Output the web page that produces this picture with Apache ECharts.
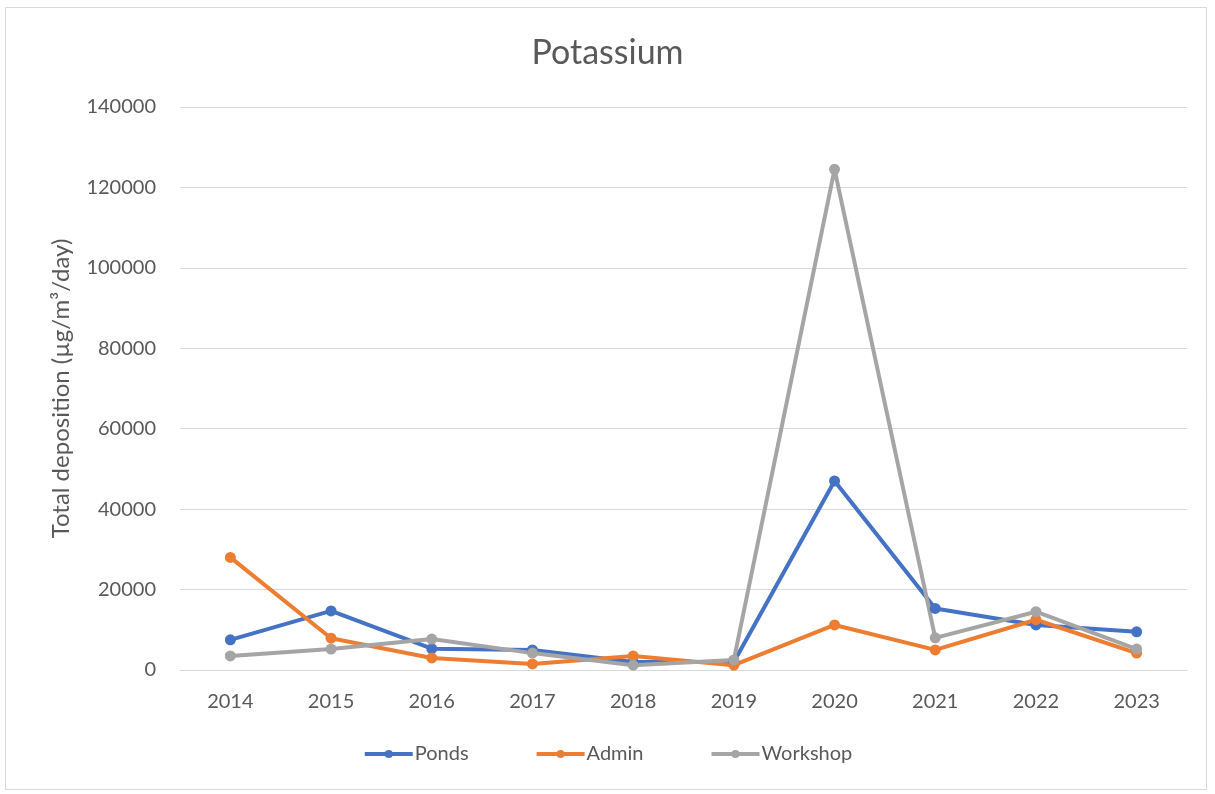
<!DOCTYPE html>
<html>
<head>
<meta charset="utf-8">
<script src="https://cdn.jsdelivr.net/npm/echarts@6/dist/echarts.min.js"></script>
<style>
  html, body { margin: 0; padding: 0; background: #ffffff; }
  #chart { width: 1215px; height: 794px; }
</style>
</head>
<body>
<div id="chart"></div>
<script>
// Sampling years
const years = ['2014', '2015', '2016', '2017', '2018', '2019', '2020', '2021', '2022', '2023'];

// Total potassium deposition per site (µg/m³/day)
const ponds    = [7500, 14700, 5300, 5000, 2000, 2000, 47000, 15300, 11200, 9500];
const admin    = [28000, 7900, 3000, 1500, 3500, 1200, 11200, 5000, 12500, 4200];
const workshop = [3500, 5200, 7700, 4200, 1200, 2500, 124500, 8000, 14500, 5200];

// Value axis ticks
const yTicks = [0, 20000, 40000, 60000, 80000, 100000, 120000, 140000];

const FONT = 'Lato, "Open Sans", sans-serif';
const TEXT = '#595959';

const chart = echarts.init(document.getElementById('chart'), null, { renderer: 'canvas' });

function lineSeries(name, data, color) {
  return {
    name: name,
    type: 'line',
    data: data,
    symbol: 'circle',
    symbolSize: 11,
    lineStyle: { color: color, width: 4 },
    itemStyle: { color: color },
    emphasis: { disabled: true },
    z: 3
  };
}

chart.setOption({
  animation: false,
  backgroundColor: '#ffffff',
  title: {
    text: 'Potassium',
    left: 'center',
    top: 31,
    textStyle: { fontFamily: FONT, fontSize: 34, fontWeight: 'normal', color: TEXT }
  },
  legend: {
    bottom: 25,
    left: 'center',
    itemWidth: 48,
    itemHeight: 10,
    itemGap: 66,
    lineStyle: { width: 4 },
    textStyle: { fontFamily: FONT, fontSize: 20, color: TEXT, padding: [0, 0, 0, -3] },
    data: ['Ponds', 'Admin', 'Workshop']
  },
  grid: { left: 180, right: 28, top: 107, bottom: 124 },
  xAxis: {
    type: 'category',
    data: years,
    boundaryGap: true,
    axisLine: { show: true, lineStyle: { color: '#d9d9d9', width: 1 } },
    axisTick: { show: false },
    axisLabel: { fontFamily: FONT, fontSize: 20, color: TEXT, margin: 22 }
  },
  yAxis: {
    type: 'value',
    min: yTicks[0],
    max: yTicks[yTicks.length - 1],
    interval: yTicks[1] - yTicks[0],
    name: 'Total deposition (µg/m³/day)',
    nameLocation: 'middle',
    nameGap: 107,
    nameTextStyle: { fontFamily: FONT, fontSize: 24, color: TEXT },
    axisLine: { show: false },
    axisTick: { show: false },
    axisLabel: {
      fontFamily: FONT, fontSize: 20, color: TEXT, margin: 24,
      formatter: function (v) { return String(v); }
    },
    splitLine: { lineStyle: { color: '#d9d9d9', width: 1 } }
  },
  graphic: [{
    type: 'rect',
    shape: { x: 5.5, y: 7.5, width: 1201, height: 782 },
    style: { fill: 'none', stroke: '#d9d9d9', lineWidth: 1 },
    silent: true
  }],
  series: [
    lineSeries('Ponds', ponds, '#4472c4'),
    lineSeries('Admin', admin, '#ed7d31'),
    lineSeries('Workshop', workshop, '#a5a5a5')
  ]
});
</script>
</body>
</html>
